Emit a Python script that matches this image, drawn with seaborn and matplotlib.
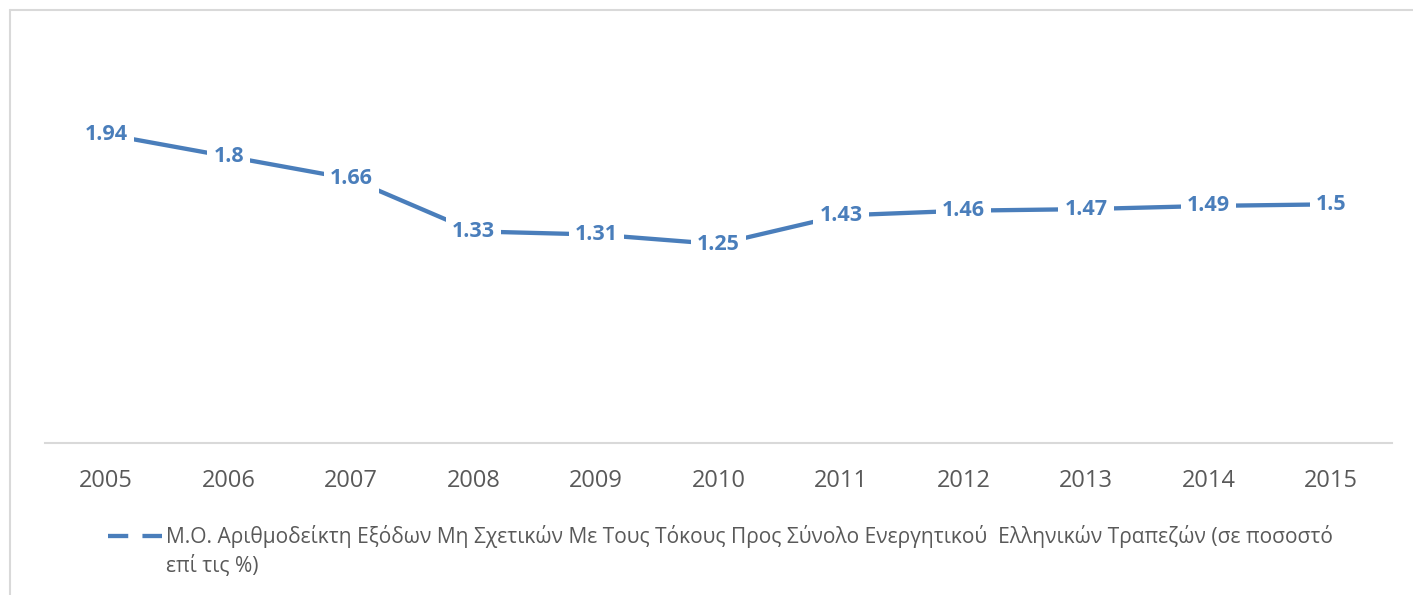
"""
Line chart of the average non-interest expenses to total assets ratio of Greek banks.
"""

import matplotlib
matplotlib.use("Agg")
import matplotlib.pyplot as plt
from matplotlib.lines import Line2D
import seaborn as sns
import pandas as pd

years = ["2005", "2006", "2007", "2008", "2009", "2010",
         "2011", "2012", "2013", "2014", "2015"]
values = [1.94, 1.8, 1.66, 1.33, 1.31, 1.25, 1.43, 1.46, 1.47, 1.49, 1.5]
series_name = ("Μ.Ο. Αριθμοδείκτη Εξόδων Μη Σχετικών Με Τους Τόκους Προς Σύνολο "
               "Ενεργητικού  Ελληνικών Τραπεζών (σε ποσοστό")
series_name_cont = "επί τις %)"

LINE_COLOR = "#4a7ebb"
TEXT_GREY = "#595959"

sns.set_theme(style="white")
plt.rcParams["font.family"] = ["Open Sans", "DejaVu Sans"]

df = pd.DataFrame({"year": years, "value": values})

fig = plt.figure(figsize=(14.13, 5.95), dpi=100)
ax = fig.add_axes([0.0318, 0.2555, 0.9535, 0.6685])

sns.lineplot(data=df, x="year", y="value", ax=ax, color=LINE_COLOR,
             linewidth=3.1, sort=False, legend=False)

# data labels centred on the points, white box cuts the line
for x, v in zip(df["year"], df["value"]):
    ax.text(x, v, f"{v:g}", ha="center", va="center", fontsize=15.5,
            fontweight="bold", color=LINE_COLOR,
            bbox=dict(boxstyle="square,pad=0.28", facecolor="white",
                      edgecolor="none"))

ax.set_xlim(-0.5, len(years) - 0.5)
ax.set_ylim(0, 2.5)
ax.set_xlabel("")
ax.set_ylabel("")
ax.set_yticks([])
for side in ["top", "right", "left"]:
    ax.spines[side].set_visible(False)
ax.spines["bottom"].set_color("#d9d9d9")
ax.spines["bottom"].set_linewidth(1.5)
ax.tick_params(axis="x", length=0, pad=19, labelsize=17, labelcolor=TEXT_GREY)

# legend: line with a gap where the data label sits, text wraps to a 2nd line
handle = Line2D([0], [0], color=LINE_COLOR, linewidth=3.1,
                linestyle=(0, (4.7, 3.3)))
leg = fig.legend(handles=[handle], labels=[series_name], loc="center left",
                 bbox_to_anchor=(0.0764, 1 - 537 / 595), frameon=False,
                 fontsize=15.1, handlelength=2.6, handletextpad=0.15,
                 labelcolor=TEXT_GREY, borderpad=0, borderaxespad=0)

fig.canvas.draw()
bb = leg.get_texts()[0].get_window_extent()
fig.text(bb.x0 / fig.bbox.width, 1 - 566 / 595, series_name_cont,
         ha="left", va="center", fontsize=15.1, color=TEXT_GREY)

# chart frame (only top and left edges visible in the crop)
fig.add_artist(Line2D([10 / 1413, 1.0], [1 - 10 / 595, 1 - 10 / 595],
                      color="#d9d9d9", linewidth=1.5, transform=fig.transFigure))
fig.add_artist(Line2D([10 / 1413, 10 / 1413], [0.0, 1 - 10 / 595],
                      color="#d9d9d9", linewidth=1.5, transform=fig.transFigure))

fig.savefig("out.png", dpi=100, facecolor="white")
